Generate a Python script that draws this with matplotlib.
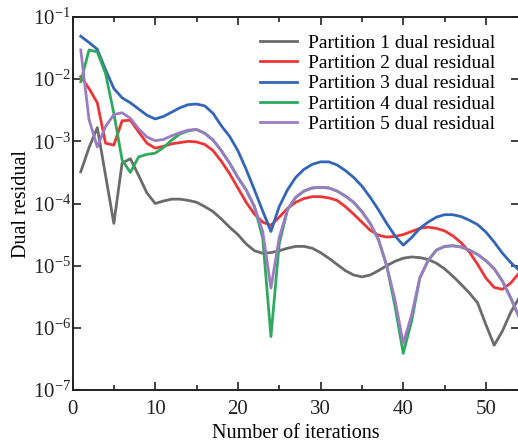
import numpy as np
import matplotlib
matplotlib.use("Agg")
import matplotlib.pyplot as plt
from matplotlib.ticker import MultipleLocator, NullLocator

# iterations 1..54, values read as log10 of the dual residual
iterations = np.arange(1, 55)

p1_log = [-3.49, -3.10, -2.78, -3.55, -4.32, -3.35, -3.28, -3.55, -3.83, -4.00,
          -3.96, -3.93, -3.93, -3.95, -3.98, -4.05, -4.13, -4.25, -4.38, -4.50,
          -4.65, -4.76, -4.80, -4.79, -4.76, -4.72, -4.69, -4.69, -4.72, -4.79,
          -4.88, -4.98, -5.08, -5.15, -5.18, -5.15, -5.08, -5.00, -4.93, -4.88,
          -4.86, -4.87, -4.90, -4.96, -5.05, -5.17, -5.30, -5.44, -5.60, -5.95,
          -6.28, -6.05, -5.75, -5.52]

p2_log = [-1.96, -2.15, -2.38, -3.03, -3.06, -2.67, -2.66, -2.85, -3.03, -3.11,
          -3.08, -3.04, -3.02, -3.00, -3.01, -3.05, -3.15, -3.32, -3.52, -3.75,
          -3.98, -4.17, -4.30, -4.35, -4.22, -4.08, -3.98, -3.92, -3.89, -3.89,
          -3.91, -3.95, -4.05, -4.17, -4.30, -4.43, -4.51, -4.54, -4.53, -4.50,
          -4.45, -4.40, -4.38, -4.40, -4.44, -4.52, -4.63, -4.78, -4.98, -5.20,
          -5.35, -5.38, -5.28, -5.12]

p3_log = [-1.31, -1.41, -1.52, -1.85, -2.15, -2.30, -2.38, -2.48, -2.58, -2.64,
          -2.60, -2.53, -2.46, -2.41, -2.40, -2.43, -2.55, -2.75, -2.92, -3.15,
          -3.45, -3.78, -4.12, -4.45, -4.05, -3.78, -3.58, -3.45, -3.37, -3.33,
          -3.33, -3.38, -3.47, -3.58, -3.72, -3.90, -4.10, -4.32, -4.52, -4.67,
          -4.55, -4.40, -4.30, -4.22, -4.18, -4.18, -4.21, -4.27, -4.34, -4.46,
          -4.62, -4.80, -4.95, -5.07]

p4_log = [-2.04, -1.53, -1.56, -1.91, -2.55, -3.30, -3.50, -3.25, -3.21, -3.19,
          -3.10, -2.98, -2.88, -2.83, -2.81, -2.87, -2.98, -3.15, -3.35, -3.58,
          -3.78, -4.05, -4.55, -6.14, -4.65, -4.10, -3.90, -3.80, -3.75, -3.74,
          -3.75, -3.80, -3.88, -3.98, -4.13, -4.32, -4.58, -5.00, -5.65, -6.41,
          -5.90, -5.20, -4.92, -4.75, -4.69, -4.68, -4.70, -4.75, -4.82, -4.92,
          -5.05, -5.25, -5.52, -5.82]

p5_log = [-1.53, -2.65, -3.09, -2.76, -2.57, -2.54, -2.63, -2.80, -2.93, -2.99,
          -2.97, -2.91, -2.86, -2.82, -2.81, -2.87, -2.98, -3.15, -3.35, -3.58,
          -3.78, -4.05, -4.45, -5.36, -4.55, -4.10, -3.90, -3.80, -3.75, -3.74,
          -3.75, -3.80, -3.88, -3.98, -4.13, -4.32, -4.58, -5.00, -5.55, -6.25,
          -5.80, -5.20, -4.92, -4.75, -4.69, -4.68, -4.70, -4.75, -4.82, -4.92,
          -5.05, -5.25, -5.52, -5.82]

labels = ["Partition 1 dual residual", "Partition 2 dual residual",
          "Partition 3 dual residual", "Partition 4 dual residual",
          "Partition 5 dual residual"]
colors = ["#6b6b6b", "#ee3535", "#3366b8", "#2eaa5e", "#9b7cc2"]
y_ticks = [1e-7, 1e-6, 1e-5, 1e-4, 1e-3, 1e-2, 1e-1]

plt.rcParams["font.family"] = ["Liberation Serif", "DejaVu Serif"]
plt.rcParams["mathtext.fontset"] = "custom"
plt.rcParams["mathtext.rm"] = "Liberation Serif"
plt.rcParams["mathtext.it"] = "Liberation Serif:italic"

fig = plt.figure(figsize=(5.18, 4.44), dpi=100)
ax = fig.add_axes([72.5 / 518, 54 / 444, (519 - 72.5) / 518, (390 - 17) / 444])

series = [p1_log, p2_log, p3_log, p4_log, p5_log]
for vals, lab, c in zip(series, labels, colors):
    ax.semilogy(iterations, 10.0 ** np.array(vals), color=c, lw=2.0, label=lab)

ax.set_xlim(0, 54)
ax.set_ylim(1e-7, 1e-1)
ax.xaxis.set_major_locator(MultipleLocator(10))
ax.xaxis.set_minor_locator(MultipleLocator(5))
ax.set_yticks(y_ticks)
ax.yaxis.set_minor_locator(NullLocator())
ax.tick_params(which="both", direction="in", top=True, right=True,
               width=1.2, colors="#222222")
ax.tick_params(axis="x", labelsize=15, pad=7)
ax.tick_params(axis="y", labelsize=15, pad=1)
ax.tick_params(which="major", length=6)
ax.tick_params(which="minor", length=3.5)
for s in ax.spines.values():
    s.set_linewidth(1.4)
    s.set_color("#222222")

ax.set_xlabel("Number of iterations", fontsize=14.5, labelpad=4)
ax.set_ylabel("Dual residual", fontsize=14.5, labelpad=1)

ax.legend(loc="upper right", frameon=False, fontsize=14, handlelength=1.9,
          handletextpad=0.55, labelspacing=0.13, borderaxespad=0.5,
          bbox_to_anchor=(0.985, 1.0))

fig.savefig("out.png", dpi=100)
